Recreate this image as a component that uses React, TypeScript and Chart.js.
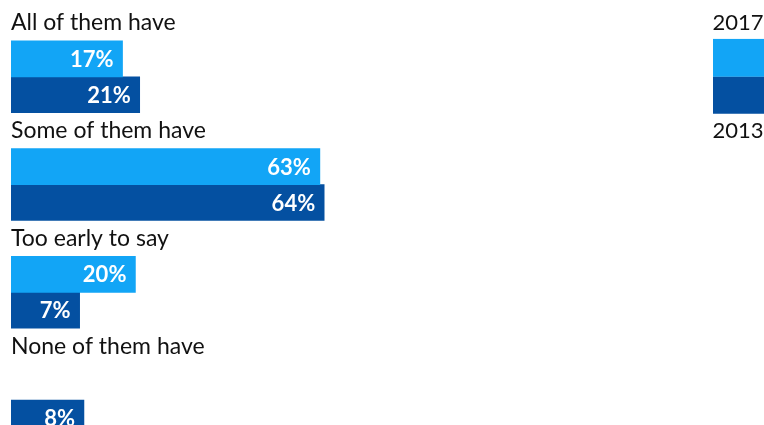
import React, { useEffect, useRef } from "react";
import { Chart, registerables } from "chart.js";

Chart.register(...registerables);

const categories = ["All of them have", "Some of them have", "Too early to say", "None of them have"];
const seriesLabels = ["2017", "2013"];
const values2017: (number | null)[] = [17, 63, 20, null];
const values2013: (number | null)[] = [21, 64, 7, 8];
const colors = ["#12a5f6", "#0450a1"];
const FONT = "Lato, 'Open Sans', sans-serif";
const BASE = -9;

const labelPlugin = {
  id: "customLabels",
  afterDatasetsDraw(chart: any) {
    const ctx = chart.ctx;
    const area = chart.chartArea;
    const spacer = chart.getDatasetMeta(0);
    ctx.save();
    // category labels above each group
    ctx.fillStyle = "#111111";
    ctx.font = `400 23px ${FONT}`;
    ctx.textAlign = "left";
    ctx.textBaseline = "middle";
    spacer.data.forEach((el: any, i: number) => {
      ctx.fillText(categories[i], area.left, el.y);
    });
    // value labels inside bars
    ctx.font = `700 22px ${FONT}`;
    ctx.fillStyle = "#ffffff";
    ctx.textAlign = "right";
    [1, 2].forEach((di) => {
      const meta = chart.getDatasetMeta(di);
      const data = chart.data.datasets[di].data;
      meta.data.forEach((el: any, i: number) => {
        const v = data[i];
        if (v === null || v === undefined) return;
        ctx.fillText(`${v}%`, el.x - 9, el.y + 1);
      });
    });
    // legend at top right
    const w = chart.width;
    const sqW = 51;
    const x0 = w - sqW;
    const b17 = chart.getDatasetMeta(1).data[0];
    const b13 = chart.getDatasetMeta(2).data[0];
    const h17 = b17.height;
    const h13 = b13.height;
    ctx.fillStyle = colors[0];
    ctx.fillRect(x0, b17.y - h17 / 2 - 2, sqW, h17 + 2);
    ctx.fillStyle = colors[1];
    ctx.fillRect(x0, b13.y - h13 / 2, sqW, h13 + 1);
    ctx.fillStyle = "#111111";
    ctx.font = `400 22px ${FONT}`;
    ctx.textAlign = "center";
    ctx.fillText(seriesLabels[0], x0 + 25, spacer.data[0].y);
    ctx.fillText(seriesLabels[1], x0 + 25, spacer.data[1].y);
    ctx.restore();
  },
};

export default function App() {
  const ref = useRef<HTMLCanvasElement | null>(null);
  useEffect(() => {
    if (!ref.current) return;
    const chart = new Chart(ref.current, {
      type: "bar",
      data: {
        labels: categories,
        datasets: [
          { label: "", data: categories.map(() => null), backgroundColor: "rgba(0,0,0,0)" },
          { label: seriesLabels[0], data: values2017, backgroundColor: colors[0], base: BASE } as any,
          { label: seriesLabels[1], data: values2013, backgroundColor: colors[1], base: BASE } as any,
        ],
      },
      options: {
        indexAxis: "y",
        animation: false,
        responsive: true,
        maintainAspectRatio: false,
        datasets: { bar: { barPercentage: 1, categoryPercentage: 1 } },
        layout: { padding: { left: 11, right: 28, top: 5, bottom: 0 } },
        scales: {
          x: { display: false, min: BASE, max: 160, grid: { display: false } },
          y: { display: false, grid: { display: false } },
        },
        plugins: { legend: { display: false }, tooltip: { enabled: false } },
      },
      plugins: [labelPlugin],
    });
    return () => chart.destroy();
  }, []);
  return (
    <div style={{ position: "fixed", left: 0, top: 0, width: 764, height: 425, overflow: "hidden", background: "#fff" }}>
      <div style={{ position: "relative", width: 764, height: 436 }}>
        <canvas ref={ref} />
      </div>
    </div>
  );
}
